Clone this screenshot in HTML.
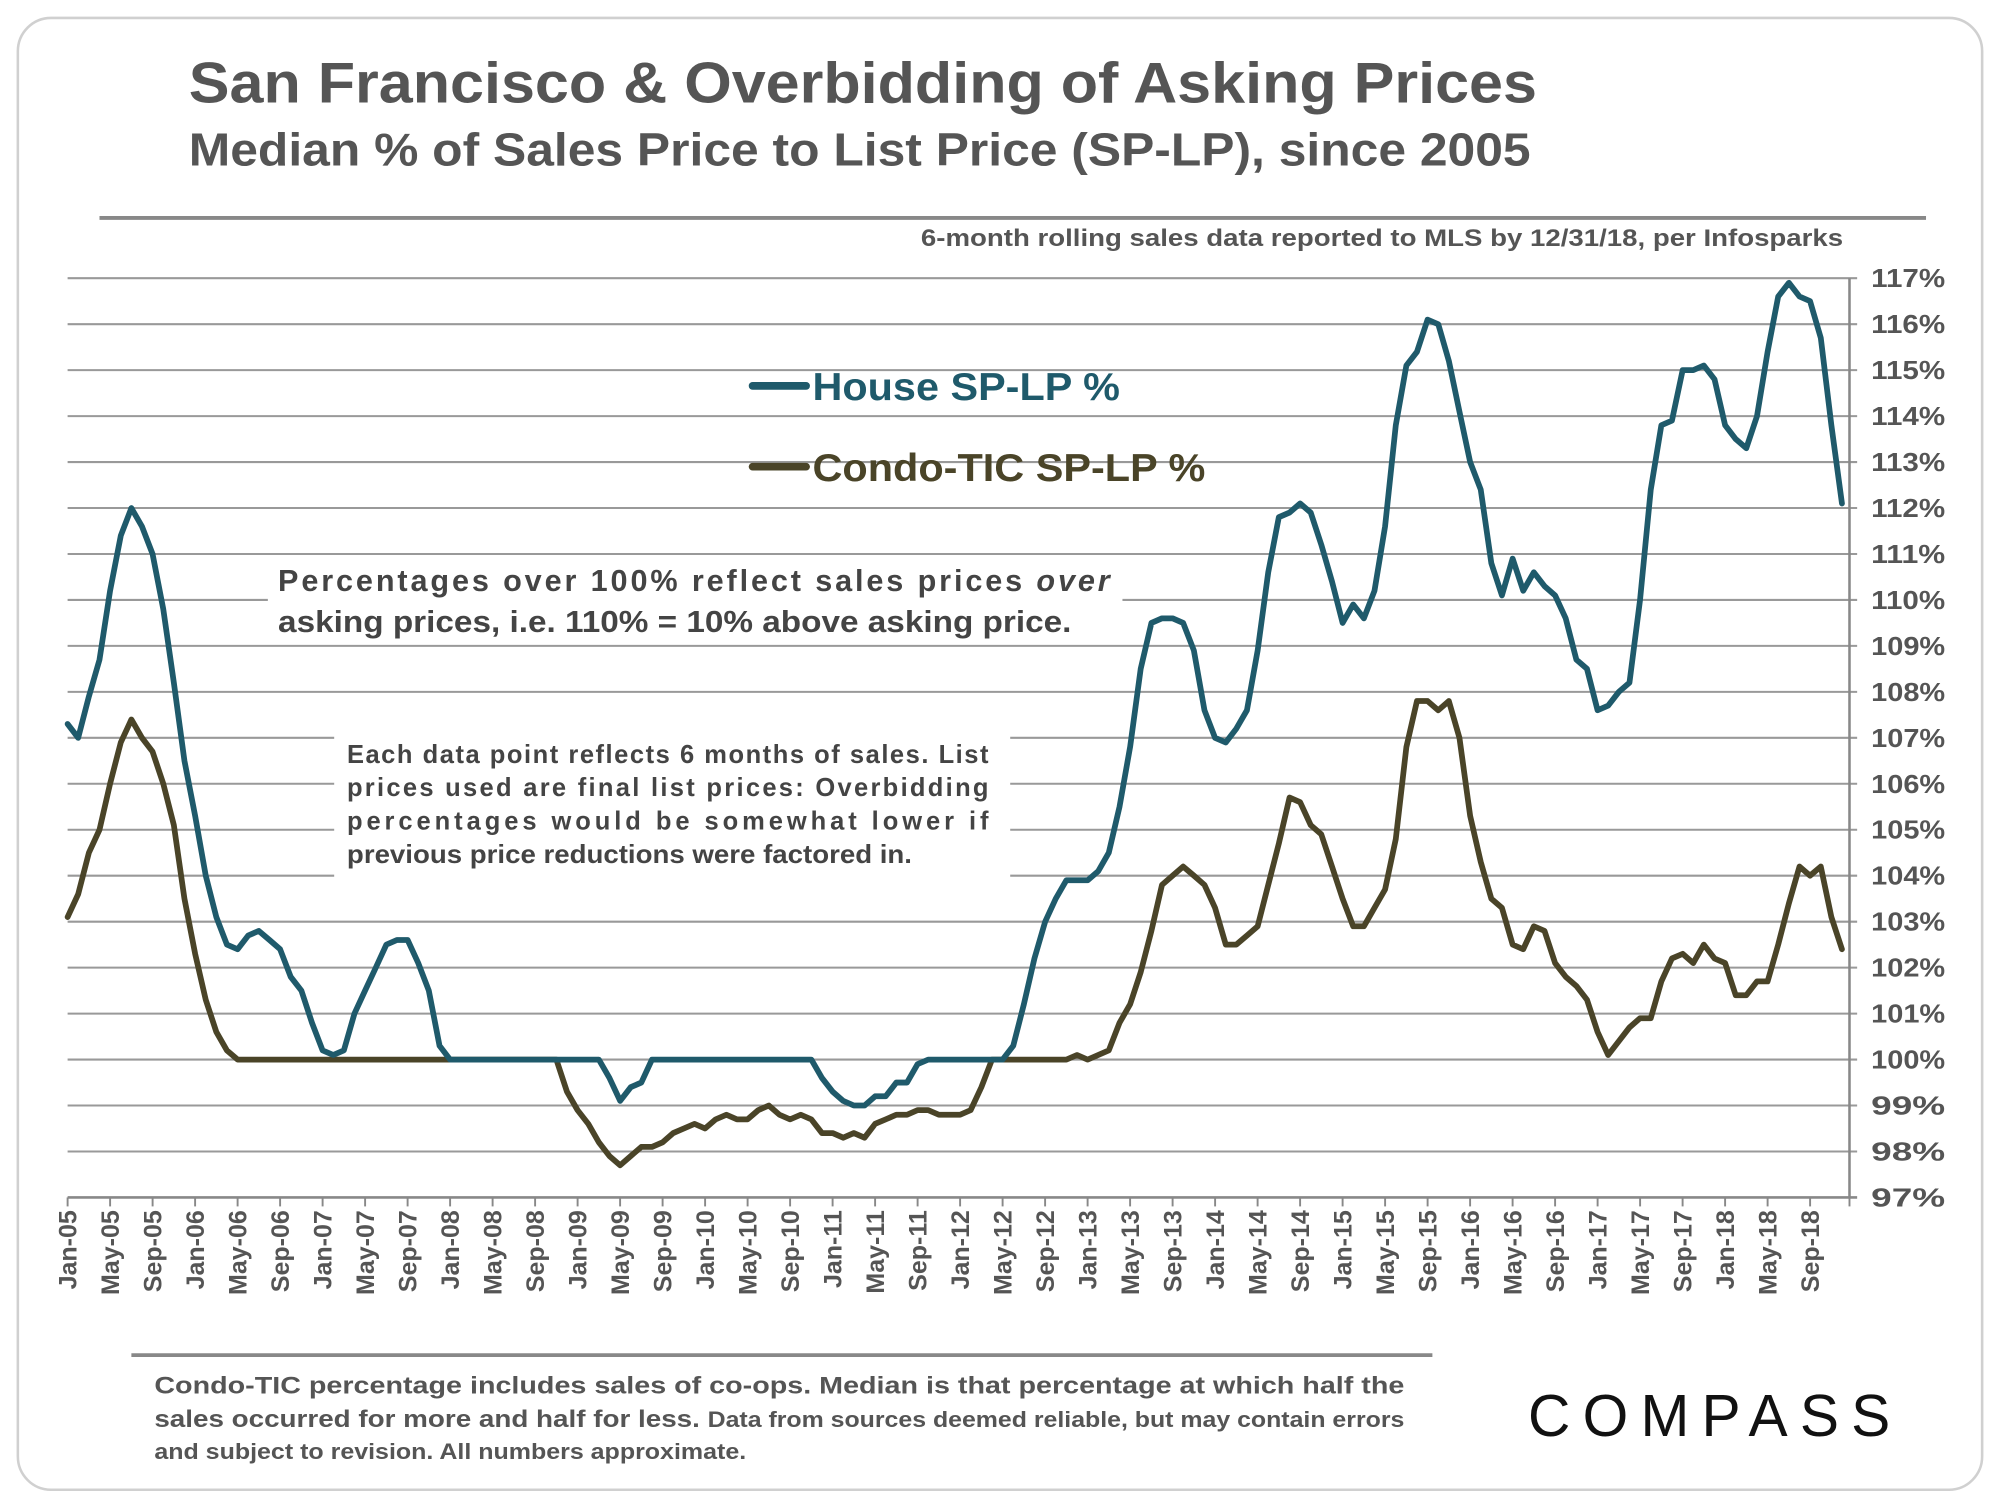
<!DOCTYPE html>
<html><head><meta charset="utf-8"><style>
html,body{margin:0;padding:0;width:2000px;height:1500px;overflow:hidden;background:#fff}
#wrap{position:absolute;left:0;top:0;width:1568px;height:1170px;transform-origin:0 0;transform:scale(1.27551,1.28205);font-family:"Liberation Sans",Arial,sans-serif}
</style></head><body>
<div id="wrap">
<svg id="svg" width="1568" height="1170" viewBox="0 0 1568 1170" style="position:absolute;left:0;top:0">
<rect x="14" y="14" width="1540" height="1148" rx="26" fill="#fff" stroke="#d0d0d0" stroke-width="2"/>
<text x="148" y="80" font-size="45" font-weight="bold" fill="#555" textLength="1057" lengthAdjust="spacingAndGlyphs">San Francisco &amp; Overbidding of Asking Prices</text>
<text x="148" y="129" font-size="36" font-weight="bold" fill="#555" textLength="1052" lengthAdjust="spacingAndGlyphs">Median % of Sales Price to List Price (SP-LP), since 2005</text>
<line x1="78" y1="170" x2="1510" y2="170" stroke="#888" stroke-width="3"/>
<text x="722" y="192" font-size="19" font-weight="bold" fill="#555" textLength="723" lengthAdjust="spacingAndGlyphs">6-month rolling sales data reported to MLS by 12/31/18, per Infosparks</text>
<g id="grid"></g>
<g id="yt"></g>
<g id="xt"></g>
<g>
<rect x="210" y="436" width="670" height="66" fill="#fff"/>
<text font-size="24" font-weight="bold" fill="#444">
<tspan x="218" y="461" textLength="652" lengthAdjust="spacing">Percentages over 100% reflect sales prices <tspan font-style="italic">over</tspan></tspan>
<tspan x="218" y="493" textLength="622" lengthAdjust="spacingAndGlyphs">asking prices, i.e. 110% = 10% above asking price.</tspan>
</text></g>
<g>
<rect x="262" y="574" width="530" height="112" fill="#fff"/>
<text font-size="20" font-weight="bold" fill="#444">
<tspan x="272" y="595" textLength="503" lengthAdjust="spacing">Each data point reflects 6 months of sales. List</tspan>
<tspan x="272" y="621" textLength="503" lengthAdjust="spacing">prices used are final list prices: Overbidding</tspan>
<tspan x="272" y="647" textLength="503" lengthAdjust="spacing">percentages would be somewhat lower if</tspan>
<tspan x="272" y="673" textLength="443" lengthAdjust="spacingAndGlyphs">previous price reductions were factored in.</tspan>
</text></g>
<g id="series"></g>
<g>
<line x1="590" y1="301" x2="632" y2="301" stroke="#1f5a6b" stroke-width="6" stroke-linecap="round"/>
<text x="637" y="312" font-size="30" font-weight="bold" fill="#1f5a6b" textLength="241" lengthAdjust="spacingAndGlyphs">House SP-LP %</text>
<line x1="590" y1="364" x2="632" y2="364" stroke="#4a4428" stroke-width="6" stroke-linecap="round"/>
<text x="637" y="375" font-size="30" font-weight="bold" fill="#4a4428" textLength="308" lengthAdjust="spacingAndGlyphs">Condo-TIC SP-LP %</text>
</g>
<line x1="103" y1="1057" x2="1123" y2="1057" stroke="#888" stroke-width="3"/>
<text font-size="19" font-weight="bold" fill="#555">
<tspan x="121" y="1087" textLength="980" lengthAdjust="spacingAndGlyphs">Condo-TIC percentage includes sales of co-ops. Median is that percentage at which half the</tspan>
<tspan x="121" y="1113" textLength="980" lengthAdjust="spacingAndGlyphs">sales occurred for more and half for less. <tspan font-size="17">Data from sources deemed reliable, but may contain errors</tspan></tspan>
<tspan x="121" y="1138" font-size="17.5" textLength="464" lengthAdjust="spacingAndGlyphs">and subject to revision. All numbers approximate.</tspan>
</text>
<text x="1198" y="1120" font-size="46" fill="#111" textLength="284" lengthAdjust="spacing">COMPASS</text>
</svg>
</div>
<script>
const yTicks=[97,98,99,100,101,102,103,104,105,106,107,108,109,110,111,112,113,114,115,116,117];
const xLabels=["Jan-05","May-05","Sep-05","Jan-06","May-06","Sep-06","Jan-07","May-07","Sep-07","Jan-08","May-08","Sep-08","Jan-09","May-09","Sep-09","Jan-10","May-10","Sep-10","Jan-11","May-11","Sep-11","Jan-12","May-12","Sep-12","Jan-13","May-13","Sep-13","Jan-14","May-14","Sep-14","Jan-15","May-15","Sep-15","Jan-16","May-16","Sep-16","Jan-17","May-17","Sep-17","Jan-18","May-18","Sep-18"];
const house=[
107.3,107.0,107.9,108.7,110.2,111.4,112.0,111.6,111.0,109.8,108.2,106.5,
105.3,104.0,103.1,102.5,102.4,102.7,102.8,102.6,102.4,101.8,101.5,100.8,
100.2,100.1,100.2,101.0,101.5,102.0,102.5,102.6,102.6,102.1,101.5,100.3,
100,100,100,100,100,100,100,100,100,100,100,100,
100,100,100,99.6,99.1,99.4,99.5,100,100,100,100,100,
100,100,100,100,100,100,100,100,100,100,100,99.6,
99.3,99.1,99.0,99.0,99.2,99.2,99.5,99.5,99.9,100,100,100,
100,100,100,100,100,100.3,101.2,102.2,103.0,103.5,103.9,103.9,
103.9,104.1,104.5,105.5,106.8,108.5,109.5,109.6,109.6,109.5,108.9,107.6,
107.0,106.9,107.2,107.6,108.9,110.6,111.8,111.9,112.1,111.9,111.2,110.4,
109.5,109.9,109.6,110.2,111.6,113.8,115.1,115.4,116.1,116.0,115.2,114.1,
113.0,112.4,110.8,110.1,110.9,110.2,110.6,110.3,110.1,109.6,108.7,108.5,
107.6,107.7,108.0,108.2,110.0,112.4,113.8,113.9,115.0,115.0,115.1,114.8,
113.8,113.5,113.3,114.0,115.4,116.6,116.9,116.6,116.5,115.7,113.8,112.1];
const condo=[
103.1,103.6,104.5,105.0,106.0,106.9,107.4,107.0,106.7,106.0,105.1,103.5,
102.3,101.3,100.6,100.2,100.0,100,100,100,100,100,100,100,
100,100,100,100,100,100,100,100,100,100,100,100,
100,100,100,100,100,100,100,100,100,100,100,99.3,
98.9,98.6,98.2,97.9,97.7,97.9,98.1,98.1,98.2,98.4,98.5,98.6,
98.5,98.7,98.8,98.7,98.7,98.9,99.0,98.8,98.7,98.8,98.7,98.4,
98.4,98.3,98.4,98.3,98.6,98.7,98.8,98.8,98.9,98.9,98.8,98.8,
98.8,98.9,99.4,100.0,100,100,100,100,100,100,100,100.1,
100.0,100.1,100.2,100.8,101.2,101.9,102.8,103.8,104.0,104.2,104.0,103.8,
103.3,102.5,102.5,102.7,102.9,103.8,104.7,105.7,105.6,105.1,104.9,104.2,
103.5,102.9,102.9,103.3,103.7,104.8,106.8,107.8,107.8,107.6,107.8,107.0,
105.3,104.3,103.5,103.3,102.5,102.4,102.9,102.8,102.1,101.8,101.6,101.3,
100.6,100.1,100.4,100.7,100.9,100.9,101.7,102.2,102.3,102.1,102.5,102.2,
102.1,101.4,101.4,101.7,101.7,102.5,103.4,104.2,104.0,104.2,103.1,102.4];
const NS="http://www.w3.org/2000/svg";
const X0=53,STEP=8.33,XR=1450;
const xs=i=>X0+i*STEP;
const ys=v=>934-(v-97)*35.85;
function mk(tag,attrs,parent){const e=document.createElementNS(NS,tag);for(const k in attrs)e.setAttribute(k,attrs[k]);parent.appendChild(e);return e;}
const grid=document.getElementById('grid'),yt=document.getElementById('yt'),xt=document.getElementById('xt'),ser=document.getElementById('series');
yTicks.forEach(v=>{
  const l=mk('line',{x1:X0,x2:XR+6,y1:ys(v),y2:ys(v),stroke:v===97?'#888':'#999','stroke-width':v===97?2:1.6},grid);
  
  
  const t=mk('text',{x:1467,y:ys(v)+7,'font-size':20.5,'font-weight':'bold',fill:'#555',textLength:58,lengthAdjust:'spacingAndGlyphs'},yt);
  t.textContent=v+'%';
  
  
});
const ax=mk('line',{x1:XR,x2:XR,y1:ys(117),y2:ys(97),stroke:'#888','stroke-width':2},grid);


xLabels.forEach((lab,k)=>{
  const x=xs(k*4);
  const tk=mk('line',{x1:x,x2:x,y1:934,y2:941,stroke:'#888','stroke-width':1.5},xt);
  
  
  const t=mk('text',{x:0,y:0,'font-size':19.5,'font-weight':'bold',fill:'#555','text-anchor':'end',transform:`translate(${x+7},944) rotate(-90)`},xt);
  t.textContent=lab;
  
  
});
const tkEnd=mk('line',{x1:XR,x2:XR,y1:934,y2:941,stroke:'#888','stroke-width':1.5},xt);


function line(data,color,name){
  const d=data.map((v,i)=>(i?'L':'M')+xs(i).toFixed(1)+','+ys(v).toFixed(1)).join('');
  const p=mk('path',{d:d,fill:'none',stroke:color,'stroke-width':4.5,'stroke-linejoin':'round','stroke-linecap':'round'},ser);
  
  
}
line(condo,'#4a4428','condo-line');
line(house,'#1f5a6b','house-line');
</script>
</body></html>
